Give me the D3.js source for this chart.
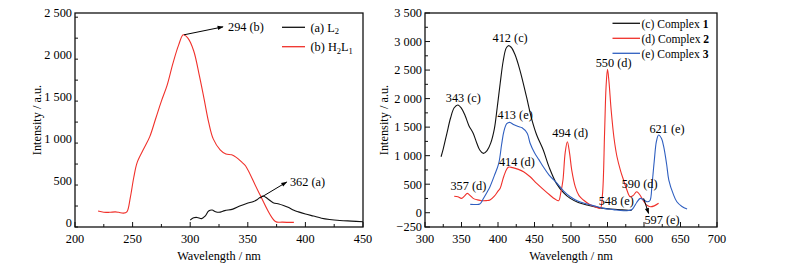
<!DOCTYPE html>
<html><head><meta charset="utf-8">
<script src="https://cdn.jsdelivr.net/npm/d3@7"></script>
<style>
body{margin:0;background:#fff}
</style></head>
<body><svg id="c" width="787" height="270"></svg>
<script>
// ---------- data ----------
const leftXTicks = [200, 250, 300, 350, 400, 450];
const leftYTicks = [0, 500, 1000, 1500, 2000, 2500];
const rightXTicks = [300, 350, 400, 450, 500, 550, 600, 650, 700];
const rightYTicks = [-250, 0, 500, 1000, 1500, 2000, 2500, 3000, 3500];

const seriesA_L2 = [[300,32],[303,60],[306,64],[310,50],[313,80],[316,140],[319,152],[322,132],[325,125],[330,145],[337,163],[343,200],[349,231],[355,255],[358,275],[363,320],[367,290],[372,240],[377,225],[381,207],[385,185],[390,150],[394,130],[400,105],[407,80],[414,55],[421,40],[430,28],[440,20],[450,12]];
const seriesB_H2L1 = [[220,140],[225,125],[230,125],[235,130],[238,125],[242,115],[245,130],[248,300],[251,540],[254,720],[260,890],[265,1030],[270,1240],[275,1450],[280,1640],[285,1900],[290,2120],[294,2240],[298,2200],[303,2050],[308,1750],[312,1480],[316,1200],[320,1000],[326,870],[331,820],[336,810],[340,780],[345,720],[348,680],[360,350],[374,15],[380,8],[390,5]];

const seriesC_Complex1 = [[322,981],[325,1120],[330,1392],[335,1660],[340,1840],[345,1888],[350,1830],[355,1700],[360,1530],[366,1392],[371,1217],[375,1100],[380,1041],[385,1090],[390,1220],[395,1470],[399,1850],[403,2268],[407,2650],[411,2880],[414,2927],[418,2900],[423,2780],[430,2500],[439,2033],[446,1650],[453,1362],[462,1099],[470,800],[480,515],[490,350],[499,252],[510,180],[522,135],[540,85],[554,65],[570,50],[583,40]];
const seriesD_Complex2 = [[340,290],[345,280],[350,252],[354,290],[358,340],[362,300],[366,252],[372,225],[378,210],[384,212],[389,223],[395,290],[400,380],[403,428],[408,640],[414,796],[420,790],[428,760],[435,719],[444,630],[453,515],[462,410],[471,310],[478,240],[483,210],[486,350],[489,573],[492,1050],[495,1244],[498,1050],[501,748],[506,450],[511,300],[517,223],[525,150],[532,110],[540,80],[543,300],[546,1400],[548,2200],[550,2513],[552,2300],[555,1800],[559,1300],[563,981],[568,730],[572,573],[576,420],[581,280],[585,300],[590,368],[594,320],[600,193],[604,130],[609,105],[614,120],[620,165]];
const seriesE_Complex3 = [[362,147],[368,145],[375,152],[380,250],[385,360],[389,456],[395,650],[401,866],[405,1200],[408,1420],[412,1560],[416,1584],[422,1540],[428,1510],[433,1490],[440,1392],[444,1217],[450,1050],[456,930],[462,806],[470,660],[481,515],[490,380],[499,280],[510,200],[522,152],[535,110],[545,77],[558,55],[572,35],[579,40],[584,60],[590,180],[595,252],[600,220],[604,193],[608,210],[611,500],[614,900],[617,1250],[620,1362],[624,1300],[627,1157],[631,850],[634,573],[640,330],[645,193],[652,110],[659,65]];

const leftLabels = [{t:"294 (b)", x:332.8, y:2335},{t:"362 (a)", x:386.6, y:489}];
const leftArrows = [[[294.6,2240],[328.5,2335]],[[360.6,295],[383.8,486]]];
const rightLabels = [
 {t:"343 (c)",x:352.5,y:2022},{t:"412 (c)",x:416.6,y:3074},{t:"413 (e)",x:423.5,y:1712},
 {t:"494 (d)",x:498.9,y:1397},{t:"550 (d)",x:558.3,y:2636},{t:"414 (d)",x:425.8,y:894},
 {t:"357 (d)",x:359.4,y:468},{t:"590 (d)",x:594,y:515},{t:"548 (e)",x:562,y:210},
 {t:"597 (e)",x:624.7,y:-128},{t:"621 (e)",x:631.5,y:1479}];
const rightArrows = [[[599.5,252],[606.3,-12]]];

// ---------- drawing ----------
const FONT = "Liberation Serif";
const FS = 12.3;
const svg = d3.select("#c");
const defs = svg.append("defs");
defs.append("marker").attr("id","ah").attr("viewBox","0 0 10 10").attr("refX",9).attr("refY",5)
  .attr("markerWidth",7).attr("markerHeight",6).attr("orient","auto")
  .append("path").attr("d","M0,1.5L10,5L0,8.5Z").attr("fill","#000");

function fmt(v){ const s = Math.abs(v) >= 1000 ? d3.format(",")(Math.abs(v)).replace(/,/g," ") : String(Math.abs(v)); return (v<0?"\u2212":"")+s; }

function txt(g){ return g.append("text").attr("font-family",FONT).attr("fill","#000").attr("font-size",FS); }

function panel(x0,x1,y0,y1,xd,yd,xt,yt,xMinor,yMinor){
  const g = svg.append("g");
  const x = d3.scaleLinear().domain(xd).range([x0,x1]);
  const y = d3.scaleLinear().domain(yd).range([y1,y0]);
  g.append("rect").attr("x",x0).attr("y",y0).attr("width",x1-x0).attr("height",y1-y0)
    .attr("fill","none").attr("stroke","#111").attr("stroke-width",1.3);
  const xm = d3.range(xd[0], xd[1]+0.001, xMinor);
  const ym = d3.range(yd[0], yd[1]+0.001, yMinor);
  g.selectAll(".xm").data(xm).join("line").attr("x1",d=>x(d)).attr("x2",d=>x(d))
    .attr("y1",y1).attr("y2",d=>y1-(xt.includes(d)?5:3)).attr("stroke","#111");
  g.selectAll(".ym").data(ym).join("line").attr("y1",d=>y(d)).attr("y2",d=>y(d))
    .attr("x1",x0).attr("x2",d=>x0+(yt.includes(d)?5:3)).attr("stroke","#111");
  g.selectAll(".xl").data(xt).join("text").attr("font-family",FONT).attr("font-size",FS).attr("fill","#000")
    .attr("x",d=>x(d)).attr("y",y1+16).attr("text-anchor","middle").text(d=>d);
  g.selectAll(".yl").data(yt).join("text").attr("font-family",FONT).attr("font-size",FS).attr("fill","#000")
    .attr("x",x0-3).attr("y",d=>y(d)+4.3).attr("text-anchor","end").text(fmt);
  txt(g).attr("x",(x0+x1)/2).attr("y",260).attr("text-anchor","middle").text("Wavelength / nm");
  return {g,x,y};
}

function drawLine(p,data,color){
  const line = d3.line().x(d=>p.x(d[0])).y(d=>p.y(d[1])).curve(d3.curveCatmullRom.alpha(0.5));
  p.g.append("path").datum(data).attr("d",line).attr("fill","none").attr("stroke",color).attr("stroke-width",1.1);
}
function arrowsDraw(p,arrows){
  p.g.selectAll(".al").data(arrows).join("line")
    .attr("x1",d=>p.x(d[0][0])).attr("y1",d=>p.y(d[0][1]))
    .attr("x2",d=>p.x(d[1][0])).attr("y2",d=>p.y(d[1][1]))
    .attr("stroke","#000").attr("stroke-width",1).attr("marker-end","url(#ah)");
}

// Left panel
const L = panel(75,363,13,227,[200,450],[-50,2500],leftXTicks,leftYTicks,25,250);
drawLine(L,seriesA_L2,"#111");
drawLine(L,seriesB_H2L1,"#f0302a");
arrowsDraw(L,leftArrows);
L.g.selectAll(".lt").data(leftLabels).join("text").attr("font-family",FONT).attr("font-size",FS).attr("fill","#000")
  .attr("x",d=>L.x(d.x)).attr("y",d=>L.y(d.y)+4.3).text(d=>d.t);
txt(L.g).attr("transform","translate(41,120) rotate(-90)").attr("text-anchor","middle").text("Intensity / a.u.");

// Left legend
const legL = [{c:"#111",a:"(a) L",s:"2"},{c:"#f0302a",a:"(b) H",s:"2",b:"L",s2:"1"}];
legL.forEach((d,i)=>{
  const yy = 27.3 + i*19.4;
  L.g.append("line").attr("x1",282).attr("x2",305).attr("y1",yy).attr("y2",yy).attr("stroke",d.c).attr("stroke-width",1.3);
  const t = txt(L.g).attr("x",310.5).attr("y",yy+4.3);
  t.append("tspan").text(d.a);
  t.append("tspan").attr("font-size",8.5).attr("dy",2.5).text(d.s);
  if(d.b){ t.append("tspan").attr("dy",-2.5).text(d.b); t.append("tspan").attr("font-size",8.5).attr("dy",2.5).text(d.s2); }
});

// Right panel
const R = panel(425,717,13,227,[300,700],[-250,3500],rightXTicks,rightYTicks,25,250);
drawLine(R,seriesC_Complex1,"#111");
drawLine(R,seriesD_Complex2,"#f0302a");
drawLine(R,seriesE_Complex3,"#2f5fc0");
arrowsDraw(R,rightArrows);
R.g.selectAll(".lt").data(rightLabels).join("text").attr("font-family",FONT).attr("font-size",FS).attr("fill","#000")
  .attr("x",d=>R.x(d.x)).attr("y",d=>R.y(d.y)+4.3).attr("text-anchor","middle").text(d=>d.t);
txt(R.g).attr("transform","translate(388,120) rotate(-90)").attr("text-anchor","middle").text("Intensity / a.u.");

const legR = [{c:"#111",a:"(c) Complex ",n:"1"},{c:"#f0302a",a:"(d) Complex ",n:"2"},{c:"#2f5fc0",a:"(e) Complex ",n:"3"}];
legR.forEach((d,i)=>{
  const yy = 23.3 + i*15;
  R.g.append("line").attr("x1",612.5).attr("x2",640).attr("y1",yy).attr("y2",yy).attr("stroke",d.c).attr("stroke-width",1.3);
  const t = txt(R.g).attr("x",641.5).attr("y",yy+4.2).attr("font-size",11.6);
  t.append("tspan").text(d.a);
  t.append("tspan").attr("font-weight","bold").text(d.n);
});
</script></body></html>
